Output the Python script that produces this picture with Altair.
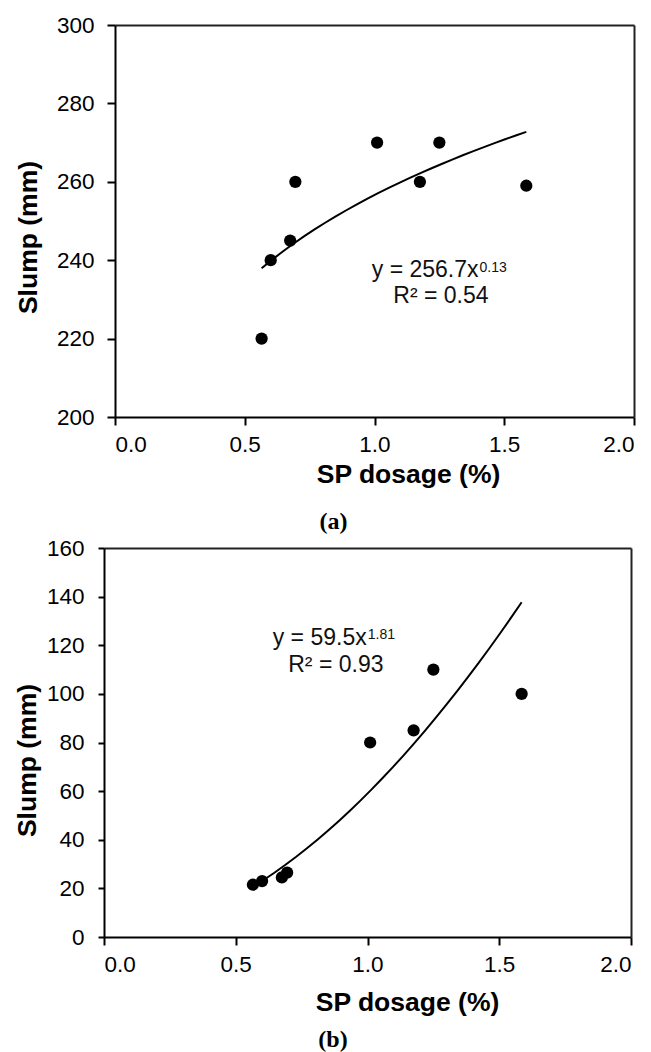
import altair as alt
import pandas as pd

# ---- data ----
sp_a = [0.565, 0.60, 0.675, 0.695, 1.01, 1.175, 1.25, 1.585]
slump_a = [220, 240, 245, 260, 270, 260, 270, 259]

sp_b = [0.565, 0.60, 0.675, 0.695, 1.01, 1.175, 1.25, 1.585]
slump_b = [21.5, 23, 24.5, 26.5, 80, 85, 110, 100]

x_ticks = [0.0, 0.5, 1.0, 1.5, 2.0]
y_ticks_a = [200, 220, 240, 260, 280, 300]
y_ticks_b = [0, 20, 40, 60, 80, 100, 120, 140, 160]

eq_a, sup_a, r2_a = ["y = 256.7x"], ["0.13"], ["R² = 0.54"]
eq_b, sup_b, r2_b = ["y = 59.5x"], ["1.81"], ["R² = 0.93"]

x_title = "SP dosage (%)"
y_title = "Slump (mm)"
captions = ["(a)", "(b)"]

# annotation anchors (data coordinates)
eq_pos_a = (1.401, 235.7)
r2_pos_a = (1.256, 229.2)
eq_pos_b = (0.997, 120.1)
r2_pos_b = (0.880, 109.1)

FONT = "Liberation Sans, Arial, sans-serif"
SERIF = "Liberation Serif, Times New Roman, serif"
FRAME = "#222"


def panel(sp, slump, y_dom, y_ticks, eq, sup, r2, eq_pos, r2_pos, caption,
          width, height, shift, y_title_pad, y_label_pad, y_tick, x_title_x,
          x_title_pad, y_title_y, cap_dx, cap_offset, sup_dy):
    """shift: how far (px) the plot frame extends left of the group origin."""
    df = pd.DataFrame({"sp": sp, "slump": slump})
    xs = alt.Scale(domain=[0, 2], nice=False, zero=False, range=[-shift, width])
    ys = alt.Scale(domain=y_dom, nice=False, zero=False)

    x_axis = alt.Axis(values=x_ticks, format=".1f", title=x_title, grid=False,
                      titleX=x_title_x, titlePadding=x_title_pad, labelPadding=8)
    y_axis = alt.Axis(values=y_ticks, format="d", title=y_title, grid=False,
                      titleY=y_title_y, titlePadding=y_title_pad, offset=shift,
                      labelPadding=y_label_pad, tickSize=y_tick)
    # frame lines on top and right, drawn as bare axis domains
    top_axis = alt.Axis(orient="top", ticks=False, labels=False, title=None,
                        grid=False, domainColor=FRAME)
    right_axis = alt.Axis(orient="right", ticks=False, labels=False, title=None,
                          grid=False, domainColor=FRAME)

    pts = alt.Chart(df).mark_circle(size=150, color="black", opacity=1).encode(
        x=alt.X("sp:Q", scale=xs, axis=x_axis),
        y=alt.Y("slump:Q", scale=ys, axis=y_axis),
    )
    fit = alt.Chart(df).transform_regression(
        "sp", "slump", method="pow"
    ).mark_line(color="black", strokeWidth=2).encode(
        x=alt.X("sp:Q", scale=xs, axis=top_axis),
        y=alt.Y("slump:Q", scale=ys, axis=right_axis),
    )
    eq_df = pd.DataFrame({"x": [eq_pos[0]], "y": [eq_pos[1]], "t": eq})
    sup_df = pd.DataFrame({"x": [eq_pos[0]], "y": [eq_pos[1]], "t": sup})
    r2_df = pd.DataFrame({"x": [r2_pos[0]], "y": [r2_pos[1]], "t": r2})
    eq_t = alt.Chart(eq_df).mark_text(align="right", baseline="alphabetic",
                                      font=FONT, fontSize=23, color="#111").encode(
        x=alt.X("x:Q", scale=xs, axis=None), y=alt.Y("y:Q", scale=ys, axis=None),
        text="t:N")
    sup_t = alt.Chart(sup_df).mark_text(align="left", baseline="alphabetic", dx=1,
                                        dy=sup_dy, font=FONT, fontSize=14,
                                        color="#111").encode(
        x=alt.X("x:Q", scale=xs, axis=None), y=alt.Y("y:Q", scale=ys, axis=None),
        text="t:N")
    r2_t = alt.Chart(r2_df).mark_text(align="center", baseline="alphabetic",
                                      font=FONT, fontSize=23, color="#111").encode(
        x=alt.X("x:Q", scale=xs, axis=None), y=alt.Y("y:Q", scale=ys, axis=None),
        text="t:N")

    return alt.layer(pts, fit, eq_t, sup_t, r2_t).resolve_axis(
        x="independent", y="independent"
    ).properties(
        width=width, height=height,
        view=alt.ViewBackground(stroke="transparent"),
        title=alt.TitleParams(caption, orient="bottom", font=SERIF, fontSize=24,
                              fontWeight="bold", color="black", anchor="middle",
                              frame="group", dx=cap_dx, offset=cap_offset),
    )


top = panel(sp_a, slump_a, [200, 300], y_ticks_a, eq_a, sup_a, r2_a, eq_pos_a, r2_pos_a,
            captions[0], 519, 392, 0, 14, 13, 8, 293, 6, 212, -41, 22, -5)
bottom = panel(sp_b, slump_b, [0, 160], y_ticks_b, eq_b, sup_b, r2_b, eq_pos_b, r2_pos_b,
               captions[1], 516, 389, 11, 5, 14, 6, 292, 14, 212, -40, 12, -6)

chart = alt.vconcat(top, bottom, spacing=1).properties(
    padding={"left": 13, "top": 13, "right": 5, "bottom": 0}
).configure_axis(
    labelFont=FONT, labelFontSize=22.5, labelColor="black",
    titleFont=FONT, titleFontSize=26.5, titleFontWeight="bold", titleColor="black",
    domainColor="black", domainWidth=2, tickColor="black", tickWidth=2, tickSize=8,
)

chart.save("out.html", embed_options={"renderer": "svg", "actions": False})
